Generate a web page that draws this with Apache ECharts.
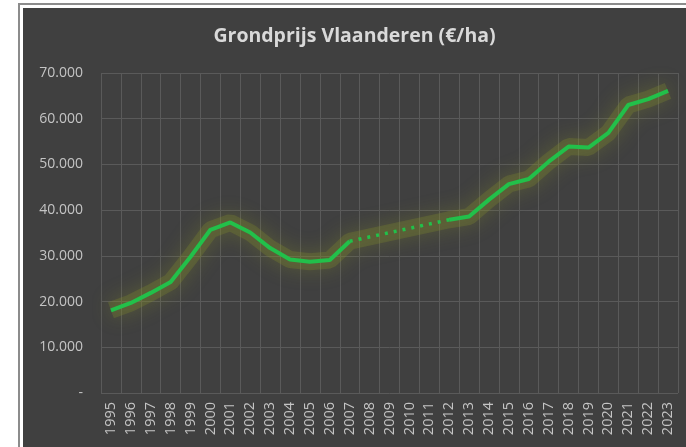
<!DOCTYPE html>
<html>
<head>
<meta charset="utf-8">
<script src="https://cdn.jsdelivr.net/npm/echarts@6/dist/echarts.min.js"></script>
<style>
  body { margin: 0; background: #fff; width: 686px; height: 447px; overflow: hidden; }
  #frame { position: absolute; left: 18px; top: 3px; width: 668px; height: 444px;
           border-left: 2px solid #8c8c8c; border-top: 2px solid #8c8c8c; box-sizing: border-box; }
  #chart { position: absolute; left: 23px; top: 8px; width: 663px; height: 439px; background: #404040; }
</style>
</head>
<body>
<div id="frame"></div>
<div id="chart"></div>
<script>
var years = ['1995','1996','1997','1998','1999','2000','2001','2002','2003','2004',
             '2005','2006','2007','2008','2009','2010','2011','2012','2013','2014',
             '2015','2016','2017','2018','2019','2020','2021','2022','2023'];
// grondprijs in euro per hectare, 2008-2011 ontbreken
var prices = [18100, 19700, 21900, 24300, 29800, 35700, 37300, 35100, 31700, 29200,
              28700, 29100, 33200, null, null, null, null, 37900, 38600, 42300,
              45700, 46800, 50600, 53900, 53700, 56900, 63000, 64300, 66100];
var yTicks = [0, 10000, 20000, 30000, 40000, 50000, 60000, 70000];

// gestippelde brug over de ontbrekende jaren
var gap = prices.map(function (v, i) {
    return (years[i] === '2007' || years[i] === '2012') ? v : null;
});

var chart = echarts.init(document.getElementById('chart'));

// zachte gloed rond de lijn
var halo = {
    color: 'rgba(125,135,45,0.3)',
    width: 17,
    shadowColor: 'rgba(140,150,40,1)',
    shadowBlur: 20
};

function glowSeries(d) {
    return {
        type: 'line',
        data: d,
        symbol: 'none',
        connectNulls: true,
        lineStyle: halo,
        silent: true,
        z: 1
    };
}

chart.setOption({
    animation: false,
    title: {
        text: 'Grondprijs Vlaanderen (€/ha)',
        left: 'center',
        top: 13,
        textStyle: { color: '#d9d9d9', fontSize: 19.5, fontWeight: 'bold', fontFamily: 'Open Sans' }
    },
    grid: { left: 78, right: 8, top: 65, bottom: 54 },
    xAxis: {
        type: 'category',
        data: years,
        boundaryGap: true,
        axisLine: { show: false },
        axisTick: { show: false },
        axisLabel: {
            rotate: 90,
            interval: 0,
            margin: 9,
            color: '#c4c4c4',
            fontSize: 14.5,
            fontFamily: 'Open Sans'
        },
        splitLine: { show: true, lineStyle: { color: '#5a5a5a', width: 1 } }
    },
    yAxis: {
        type: 'value',
        min: yTicks[0],
        max: yTicks[yTicks.length - 1],
        interval: 10000,
        axisLine: { show: false },
        axisTick: { show: false },
        axisLabel: {
            margin: 18,
            color: '#c4c4c4',
            fontSize: 14,
            fontFamily: 'Open Sans',
            formatter: function (v) {
                if (v === 0) return '-';
                return (v / 1000).toFixed(0) + '.000';
            }
        },
        splitLine: { show: true, lineStyle: { color: '#5a5a5a', width: 1 } }
    },
    series: [
        glowSeries(prices),
        {
            type: 'line',
            data: prices,
            symbol: 'none',
            connectNulls: false,
            lineStyle: { color: '#22c04a', width: 4 },
            z: 3
        },
        {
            type: 'line',
            data: gap,
            symbol: 'none',
            connectNulls: true,
            lineStyle: { color: '#22c04a', width: 3.5, type: [3, 6] },
            z: 3
        }
    ]
});
</script>
</body>
</html>
